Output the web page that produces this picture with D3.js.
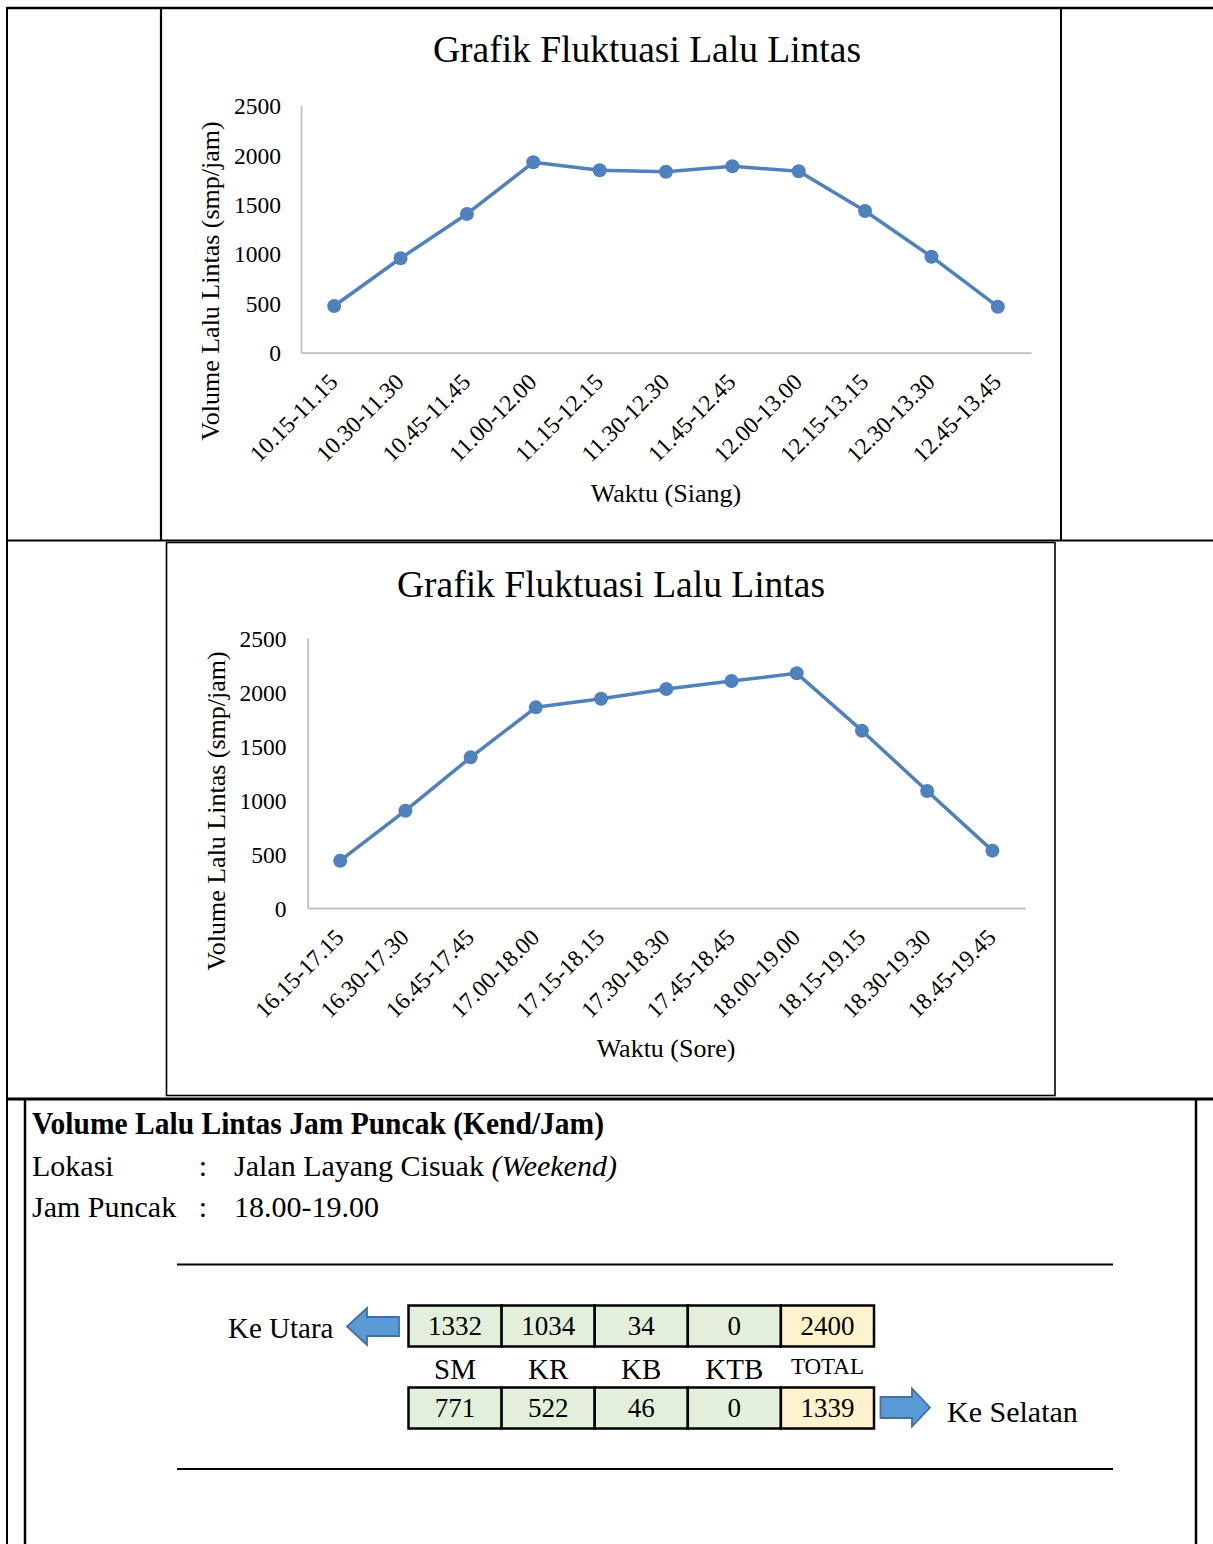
<!DOCTYPE html>
<html><head><meta charset="utf-8">
<script src="https://cdn.jsdelivr.net/npm/d3@7"></script>
<style>
html,body{margin:0;padding:0;background:#fff;}
svg text{font-family:"Liberation Serif","Times New Roman",serif;fill:#000;}
</style></head>
<body>
<svg id="c" width="1213" height="1544"></svg>
<script>
// ---------- DATA ----------
const siangLabels = ["10.15-11.15","10.30-11.30","10.45-11.45","11.00-12.00","11.15-12.15","11.30-12.30","11.45-12.45","12.00-13.00","12.15-13.15","12.30-13.30","12.45-13.45"];
const siangValues = [472, 954, 1402, 1924, 1843, 1829, 1884, 1833, 1432, 970, 465];
const soreLabels = ["16.15-17.15","16.30-17.30","16.45-17.45","17.00-18.00","17.15-18.15","17.30-18.30","17.45-18.45","18.00-19.00","18.15-19.15","18.30-19.30","18.45-19.45"];
const soreValues = [438, 901, 1395, 1858, 1938, 2028, 2102, 2173, 1642, 1083, 531];
const yTicks = [0, 500, 1000, 1500, 2000, 2500];
const chartTitle = "Grafik Fluktuasi Lalu Lintas";
const yTitle = "Volume Lalu Lintas (smp/jam)";
const xTitleSiang = "Waktu (Siang)";
const xTitleSore = "Waktu (Sore)";

const vehCols = ["SM","KR","KB","KTB","TOTAL"];
const keUtara = [1332, 1034, 34, 0, 2400];
const keSelatan = [771, 522, 46, 0, 1339];

const svg = d3.select("#c");
const blue = "#4f81bd";

// ---------- FRAME LINES ----------
function line(x1,y1,x2,y2,w){
  svg.append("line").attr("x1",x1).attr("y1",y1).attr("x2",x2).attr("y2",y2)
    .attr("stroke","#000").attr("stroke-width",w);
}
line(7,8,1213,8,2.5);
line(7,7,7,1544,2);
line(161,8,161,540,2.2);
line(1061,8,1061,540,2);
line(7,540.5,1213,540.5,2);
svg.append("rect").attr("x",166.5).attr("y",542.5).attr("width",888.5).attr("height",553)
  .attr("fill","none").attr("stroke","#000").attr("stroke-width",1.6);
line(7,1099,1213,1099,3);
line(25,1099,25,1544,2.5);
line(1196,1099,1196,1544,2.5);

// ---------- CHART ----------
function drawChart(cfg){
  const g = svg.append("g");
  const x = d3.scaleBand().domain(cfg.labels).range([cfg.x0, cfg.x1]);
  const y = d3.scaleLinear().domain([0,2500]).range([cfg.y0, cfg.yTop]);

  // title
  g.append("text").attr("x",cfg.titleX).attr("y",cfg.titleY).attr("dy","0.35em")
    .attr("text-anchor","middle").style("font-size","37.5px").text(chartTitle);

  // y axis
  const ya = g.append("g").attr("transform",`translate(${cfg.x0},0)`)
    .call(d3.axisLeft(y).tickValues(yTicks).tickFormat(d3.format("d")).tickSize(0).tickPadding(cfg.tickPad));
  ya.select(".domain").attr("stroke","#bfbfbf").attr("stroke-width",1.8);
  ya.selectAll("text").style("font-size","23.5px").style("font-family","Liberation Serif").attr("fill","#000").attr("dy","0.35em");

  // x axis
  const xa = g.append("g").attr("transform",`translate(0,${cfg.y0})`)
    .call(d3.axisBottom(x).tickSize(0));
  xa.select(".domain").attr("stroke","#bfbfbf").attr("stroke-width",1.8);
  xa.selectAll("text").style("font-size","23.5px").style("font-family","Liberation Serif").attr("fill","#000")
    .attr("text-anchor","end").attr("y",0).attr("dy","0.35em")
    .attr("transform","translate(-1,25) rotate(-45)");

  // axis titles
  g.append("text").attr("transform",`translate(${cfg.yTitleX},${cfg.yTitleY}) rotate(-90)`)
    .attr("dy","0.35em").attr("text-anchor","middle").style("font-size","26px").text(yTitle);
  g.append("text").attr("x",cfg.xTitleX).attr("y",cfg.xTitleY).attr("dy","0.35em")
    .attr("text-anchor","middle").style("font-size","26px").text(cfg.xTitle);

  const cx = d => x(d) + x.bandwidth()/2;
  const pts = cfg.labels.map((l,i)=>[cx(l), y(cfg.values[i])]);
  g.append("path").attr("d", d3.line()(pts)).attr("fill","none")
    .attr("stroke",blue).attr("stroke-width",3.5).attr("stroke-linejoin","round");
  g.selectAll("circle.m").data(cfg.values).join("circle").attr("class","m")
    .attr("cx",(d,i)=>cx(cfg.labels[i])).attr("cy",d=>y(d)).attr("r",7).attr("fill",blue);
}

drawChart({labels:siangLabels, values:siangValues, x0:301, x1:1031, y0:352.7, yTop:105.3,
  tickPad:20, titleX:647, titleY:49, yTitleX:210, yTitleY:281, xTitleX:666, xTitleY:493, xTitle:xTitleSiang});
drawChart({labels:soreLabels, values:soreValues, x0:307.6, x1:1025, y0:908, yTop:638,
  tickPad:21, titleX:611, titleY:584, yTitleX:216, yTitleY:811, xTitleX:666, xTitleY:1048, xTitle:xTitleSore});

// ---------- PEAK HOUR SECTION ----------
svg.append("text").attr("x",32).attr("y",1123).attr("dy","0.35em")
  .style("font-size","32px").style("font-weight","bold")
  .attr("textLength",572).attr("lengthAdjust","spacingAndGlyphs")
  .text("Volume Lalu Lintas Jam Puncak (Kend/Jam)");

function row(label, yc, valueParts){
  svg.append("text").attr("x",32).attr("y",yc).attr("dy","0.35em").style("font-size","30px").text(label);
  svg.append("text").attr("x",203).attr("y",yc).attr("dy","0.35em").attr("text-anchor","middle").style("font-size","30px").text(":");
  const t = svg.append("text").attr("x",234).attr("y",yc).attr("dy","0.35em").style("font-size","30px");
  valueParts.forEach(p=>{ t.append("tspan").style("font-style",p.i?"italic":"normal").text(p.t); });
}
row("Lokasi",1165,[{t:"Jalan Layang Cisuak "},{t:"(Weekend)",i:true}]);
row("Jam Puncak",1206,[{t:"18.00-19.00"}]);

line(177,1264.5,1113,1264.5,2.2);
line(177,1469,1113,1469,2.2);

// table
const tx = d3.scaleBand().domain(vehCols).range([408.5, 874]);
function tableRow(vals, yTop, h){
  const g = svg.append("g");
  g.selectAll("rect").data(vehCols).join("rect")
    .attr("x",d=>tx(d)).attr("y",yTop).attr("width",tx.bandwidth()).attr("height",h)
    .attr("fill",d=>d==="TOTAL"?"#fff2cc":"#e2efda").attr("stroke","#000").attr("stroke-width",2.5);
  g.selectAll("text").data(vals).join("text")
    .attr("x",(d,i)=>tx(vehCols[i])+tx.bandwidth()/2).attr("y",yTop+h/2).attr("dy","0.35em")
    .attr("text-anchor","middle").style("font-size","27px").text(d=>d);
}
tableRow(keUtara, 1305.5, 41);
tableRow(keSelatan, 1387.5, 41);
svg.append("g").selectAll("text").data(vehCols).join("text")
  .attr("x",d=>tx(d)+tx.bandwidth()/2).attr("y",(d)=>d==="TOTAL"?1366:1369).attr("dy","0.35em")
  .attr("text-anchor","middle").style("font-size",d=>d==="TOTAL"?"23px":"29px").text(d=>d);

// arrows
svg.append("path").attr("d","M347,1326.5 L367,1308 L367,1317 L399,1317 L399,1336 L367,1336 L367,1345 Z")
  .attr("fill","#5b9bd5").attr("stroke","#41719c").attr("stroke-width",1.8);
svg.append("path").attr("d","M930,1407.5 L912,1388.5 L912,1397 L880.5,1397 L880.5,1418 L912,1418 L912,1426.5 Z")
  .attr("fill","#5b9bd5").attr("stroke","#41719c").attr("stroke-width",1.8);
svg.append("text").attr("x",228).attr("y",1328).attr("dy","0.35em").style("font-size","29px").text("Ke Utara");
svg.append("text").attr("x",947).attr("y",1411).attr("dy","0.35em").style("font-size","30px").text("Ke Selatan");
</script>
</body></html>
